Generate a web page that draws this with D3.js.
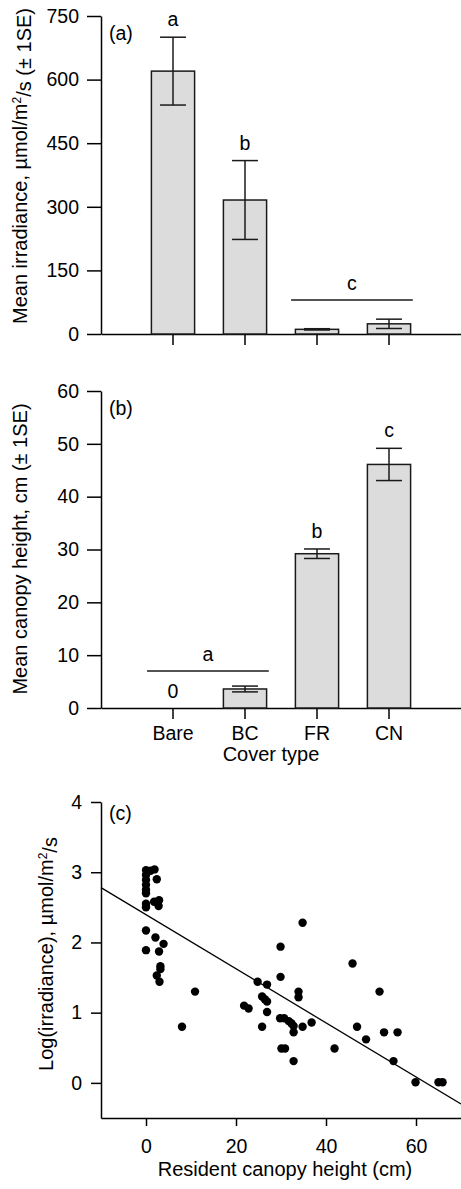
<!DOCTYPE html>
<html>
<head>
<meta charset="utf-8">
<script src="https://cdn.jsdelivr.net/npm/d3@7"></script>
<style>
  html, body { margin: 0; padding: 0; background: #fff; }
  svg { display: block; }
  text { font-family: "Liberation Sans", Arial, sans-serif; fill: #000; }
</style>
</head>
<body>
<svg id="fig" width="461" height="1189"></svg>
<script>
// ---- data ----
const coverTypes = ["Bare", "BC", "FR", "CN"];

// (a) mean irradiance by cover type, µmol/m²/s
const irradianceMean = [620, 316, 11, 24];
const irradianceSE = [80, 93, 1.5, 11];
const irradianceTicks = [0, 150, 300, 450, 600, 750];

// (b) mean canopy height by cover type, cm
const heightMean = [0, 3.6, 29.2, 46.1];
const heightSE = [0, 0.55, 0.9, 3.05];
const heightTicks = [0, 10, 20, 30, 40, 50, 60];

// significance groups: letter, categories covered, optional bracket level
const irradianceGroups = [
  { letter: "a", cats: ["Bare"] },
  { letter: "b", cats: ["BC"] },
  { letter: "c", cats: ["FR", "CN"], level: 80 }
];
const heightGroups = [
  { letter: "a", cats: ["Bare", "BC"], level: 7 },
  { letter: "b", cats: ["FR"] },
  { letter: "c", cats: ["CN"] }
];

// (c) resident canopy height vs log irradiance, one point per plot
const canopyHeight = [
  0, 0, 0, 0, 0, 0, 0, 0, 0, 0,
  1.0, 1.9, 2.4, 1.8, 2.9, 2.8,
  2.1, 3.9, 2.9, 3.2, 3.2, 2.4, 3.0,
  8.0, 10.9, 21.8, 22.8,
  24.8, 26.9, 25.8, 26.4, 26.9, 26.9, 25.8,
  29.9, 29.9, 34.8, 33.9, 33.9,
  29.8, 30.7, 31.7, 32.3, 32.8, 32.8, 34.8, 36.8,
  30.1, 30.9, 32.8, 41.9,
  45.9, 46.9, 48.9, 51.9, 52.9, 55.9, 55.0,
  59.9, 65.0, 65.9
];
const logIrradiance = [
  3.03, 2.96, 2.89, 2.82, 2.75, 2.70, 2.55, 2.50, 2.17, 1.89,
  3.02, 3.04, 2.90, 2.58, 2.60, 2.52,
  2.07, 1.98, 1.87, 1.66, 1.62, 1.53, 1.44,
  0.80, 1.30, 1.10, 1.06,
  1.44, 1.40, 1.23, 1.19, 1.16, 1.01, 0.80,
  1.94, 1.51, 2.28, 1.30, 1.22,
  0.92, 0.92, 0.88, 0.85, 0.81, 0.72, 0.80, 0.86,
  0.49, 0.49, 0.31, 0.49,
  1.70, 0.80, 0.62, 1.30, 0.72, 0.72, 0.31,
  0.01, 0.01, 0.01
];
const scatterXTicks = [0, 20, 40, 60];
const scatterYTicks = [0, 1, 2, 3, 4];
// fitted regression: log(irradiance) = fitIntercept + fitSlope * height
const fitIntercept = 2.395;
const fitSlope = -0.0385;

// ---- layout ----
const svg = d3.select("#fig");
const FS = 19.5;
const axisLeftX = 101, rightX = 461;

function styleAxis(g) {
  g.attr("font-size", null).attr("font-family", null);
  g.selectAll("path, line").attr("stroke", "#000").attr("stroke-width", 1.5);
  g.selectAll("text").style("font-size", FS + "px").attr("fill", "#000");
}

const xBand = d3.scaleBand()
  .domain(coverTypes)
  .range([axisLeftX, rightX])
  .paddingInner(0.4)
  .paddingOuter(0.7);

function barPanel(opts) {
  const { y, means, ses, ticks, groups, tag, ylabel, ylabelY, showCats, zeroLabel } = opts;
  const g = svg.append("g");

  // y axis
  g.append("g")
    .attr("transform", `translate(${axisLeftX},0)`)
    .call(d3.axisLeft(y).tickValues(ticks).tickSize(14).tickSizeOuter(0).tickPadding(8))
    .call(styleAxis);

  // x axis
  const xa = g.append("g")
    .attr("transform", `translate(0,${y(0)})`)
    .call(d3.axisBottom(xBand).tickSize(11).tickSizeOuter(0).tickPadding(7)
      .tickFormat(showCats ? d => d : () => ""))
    .call(styleAxis);
  xa.selectAll(".tick text").attr("dy", "0.71em");

  // bars
  const rows = coverTypes.map((c, i) => ({ c, m: means[i], se: ses[i] }));
  g.selectAll("rect.bar").data(rows.filter(d => d.m > 0)).join("rect")
    .attr("class", "bar")
    .attr("x", d => xBand(d.c))
    .attr("width", xBand.bandwidth())
    .attr("y", d => y(d.m))
    .attr("height", d => y(0) - y(d.m))
    .attr("fill", "#dcdcdc")
    .attr("stroke", "#1a1a1a")
    .attr("stroke-width", 1.5);

  // error bars
  const capW = xBand.bandwidth() * 0.6;
  const eb = g.selectAll("g.err").data(rows.filter(d => d.se > 0)).join("g").attr("class", "err")
    .attr("stroke", "#1a1a1a").attr("stroke-width", 1.5);
  eb.append("line")
    .attr("x1", d => xBand(d.c) + xBand.bandwidth() / 2)
    .attr("x2", d => xBand(d.c) + xBand.bandwidth() / 2)
    .attr("y1", d => y(d.m + d.se)).attr("y2", d => y(d.m - d.se));
  eb.append("line")
    .attr("x1", d => xBand(d.c) + xBand.bandwidth() / 2 - capW / 2)
    .attr("x2", d => xBand(d.c) + xBand.bandwidth() / 2 + capW / 2)
    .attr("y1", d => y(d.m + d.se)).attr("y2", d => y(d.m + d.se));
  eb.append("line")
    .attr("x1", d => xBand(d.c) + xBand.bandwidth() / 2 - capW / 2)
    .attr("x2", d => xBand(d.c) + xBand.bandwidth() / 2 + capW / 2)
    .attr("y1", d => y(d.m - d.se)).attr("y2", d => y(d.m - d.se));

  // significance letters
  groups.forEach(gr => {
    const idx = gr.cats.map(c => coverTypes.indexOf(c));
    if (gr.cats.length > 1) {
      const x1 = xBand(gr.cats[0]) + xBand.bandwidth() / 2 - xBand.bandwidth() * 0.6;
      const x2 = xBand(gr.cats[gr.cats.length - 1]) + xBand.bandwidth() * 1.05;
      g.append("line")
        .attr("x1", x1).attr("x2", x2)
        .attr("y1", y(gr.level)).attr("y2", y(gr.level))
        .attr("stroke", "#1a1a1a").attr("stroke-width", 1.5);
      g.append("text")
        .attr("x", (x1 + x2) / 2).attr("y", y(gr.level) - 10)
        .attr("text-anchor", "middle").style("font-size", FS + "px")
        .text(gr.letter);
    } else {
      const i = idx[0];
      g.append("text")
        .attr("x", xBand(coverTypes[i]) + xBand.bandwidth() / 2)
        .attr("y", y(means[i] + ses[i]) - 11)
        .attr("text-anchor", "middle").style("font-size", FS + "px")
        .text(gr.letter);
    }
  });

  if (zeroLabel) {
    coverTypes.forEach((c, i) => {
      if (means[i] === 0) {
        g.append("text")
          .attr("x", xBand(c) + xBand.bandwidth() / 2)
          .attr("y", y(0) - 10)
          .attr("text-anchor", "middle").style("font-size", FS + "px")
          .text("0");
      }
    });
  }

  // panel tag
  g.append("text")
    .attr("x", 109).attr("y", y.range()[1] + 24)
    .style("font-size", FS + "px")
    .text(tag);

  // y title
  const yt = g.append("text")
    .attr("transform", `translate(27,${ylabelY}) rotate(-90)`)
    .attr("text-anchor", "middle")
    .style("font-size", "20px");
  ylabel(yt);
  return g;
}

// (a)
const yA = d3.scaleLinear().domain([0, 750]).range([334, 16]);
barPanel({
  y: yA, means: irradianceMean, ses: irradianceSE, ticks: irradianceTicks,
  groups: irradianceGroups, tag: "(a)", ylabelY: 166, showCats: false,
  ylabel: t => {
    t.append("tspan").text("Mean irradiance, µmol/m");
    t.append("tspan").attr("dy", "-0.5em").style("font-size", "12px").text("2");
    t.append("tspan").attr("dy", "0.5em").text("/s (± 1SE)");
  }
});

// (b)
const yB = d3.scaleLinear().domain([0, 60]).range([708, 391]);
barPanel({
  y: yB, means: heightMean, ses: heightSE, ticks: heightTicks,
  groups: heightGroups, tag: "(b)", ylabelY: 549, showCats: true, zeroLabel: true,
  ylabel: t => t.text("Mean canopy height, cm (± 1SE)")
});
svg.append("text")
  .attr("x", 271).attr("y", 761)
  .attr("text-anchor", "middle").style("font-size", "20px")
  .text("Cover type");

// (c) scatter with fitted line
const xC = d3.scaleLinear().domain([-10, 70]).range([axisLeftX, rightX]);
const yC = d3.scaleLinear().domain([-0.5, 4]).range([1118, 802]);
const gC = svg.append("g");

gC.append("g")
  .attr("transform", `translate(${axisLeftX},0)`)
  .call(d3.axisLeft(yC).tickValues(scatterYTicks).tickFormat(d3.format("d"))
    .tickSize(10).tickSizeOuter(0).tickPadding(9))
  .call(styleAxis);
gC.append("g")
  .attr("transform", `translate(0,${yC.range()[0]})`)
  .call(d3.axisBottom(xC).tickValues(scatterXTicks).tickFormat(d3.format("d"))
    .tickSize(8).tickSizeOuter(0).tickPadding(13))
  .call(styleAxis);

const pts = canopyHeight.map((h, i) => ({ h, v: logIrradiance[i] }));
gC.selectAll("circle").data(pts).join("circle")
  .attr("cx", d => xC(d.h)).attr("cy", d => yC(d.v))
  .attr("r", 4.2).attr("fill", "#000");

const fitX = xC.domain();
gC.append("line")
  .attr("x1", xC(fitX[0])).attr("y1", yC(fitIntercept + fitSlope * fitX[0]))
  .attr("x2", xC(fitX[1])).attr("y2", yC(fitIntercept + fitSlope * fitX[1]))
  .attr("stroke", "#000").attr("stroke-width", 1.3);

gC.append("text")
  .attr("x", 109).attr("y", 820)
  .style("font-size", FS + "px").text("(c)");

const ytC = gC.append("text")
  .attr("transform", `translate(53,954) rotate(-90)`)
  .attr("text-anchor", "middle").style("font-size", "20px");
ytC.append("tspan").text("Log(irradiance), µmol/m");
ytC.append("tspan").attr("dy", "-0.5em").style("font-size", "12px").text("2");
ytC.append("tspan").attr("dy", "0.5em").text("/s");

svg.append("text")
  .attr("x", 285).attr("y", 1176)
  .attr("text-anchor", "middle").style("font-size", "20px")
  .text("Resident canopy height (cm)");
</script>
</body>
</html>
